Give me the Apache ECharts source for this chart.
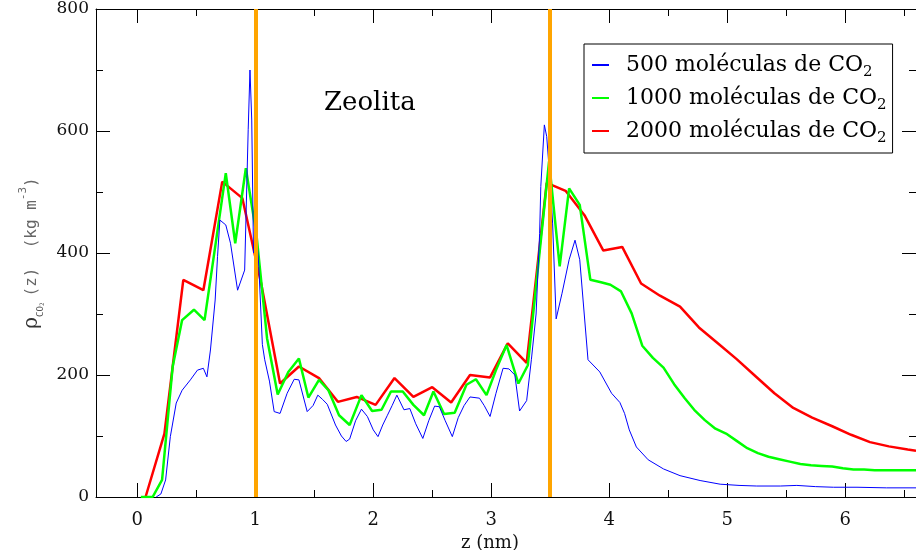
<!DOCTYPE html>
<html>
<head>
<meta charset="utf-8">
<script src="https://cdn.jsdelivr.net/npm/echarts@6/dist/echarts.min.js"></script>
<style>
html,body{margin:0;padding:0;background:#fff;}
#chart{width:916px;height:550px;}
</style>
</head>
<body>
<div id="chart"></div>
<script>
// ---- data ----
var seriesNames = ['500 moléculas de CO2', '1000 moléculas de CO2', '2000 moléculas de CO2'];

var blueZ = [0.16,0.20,0.24,0.28,0.33,0.38,0.45,0.51,0.56,0.59,0.62,0.66,0.68,0.70,0.75,0.79,0.85,0.91,0.94,0.955,0.97,0.985,1.005,1.03,1.06,1.08,1.12,1.16,1.21,1.27,1.33,1.37,1.44,1.49,1.53,1.57,1.61,1.68,1.73,1.77,1.80,1.85,1.90,1.95,2.00,2.04,2.08,2.12,2.16,2.20,2.26,2.31,2.36,2.42,2.47,2.52,2.56,2.61,2.67,2.72,2.77,2.82,2.90,2.94,2.99,3.04,3.10,3.15,3.20,3.24,3.30,3.34,3.38,3.41,3.42,3.45,3.47,3.50,3.52,3.55,3.60,3.66,3.71,3.75,3.82,3.92,4.02,4.09,4.13,4.17,4.23,4.33,4.46,4.60,4.77,4.94,5.10,5.25,5.45,5.59,5.75,5.90,6.10,6.35,6.60];
var blueRho = [0,5,28,99,154,175,192,208,211,197,241,323,394,454,446,416,339,372,602,700,618,400,449,378,250,225,190,140,137,170,193,192,140,150,167,160,152,118,100,91,95,125,144,132,110,99,118,134,150,167,143,145,120,96,125,149,148,125,99,130,150,164,162,150,132,170,211,210,200,141,158,225,300,432,509,610,591,514,449,292,334,389,421,389,225,205,170,155,137,110,82,61,46,35,27,21,19,18,18,19,17,16,16,15,15];

var greenZ = [0.03,0.13,0.21,0.30,0.38,0.48,0.57,0.66,0.75,0.83,0.92,1.01,1.10,1.19,1.28,1.37,1.45,1.54,1.62,1.71,1.80,1.90,1.99,2.07,2.15,2.25,2.34,2.43,2.51,2.60,2.69,2.79,2.87,2.96,3.04,3.13,3.23,3.31,3.40,3.49,3.58,3.66,3.75,3.84,3.93,4.01,4.10,4.19,4.28,4.37,4.46,4.55,4.64,4.72,4.81,4.90,4.99,5.08,5.17,5.26,5.35,5.44,5.53,5.62,5.71,5.80,5.89,5.98,6.07,6.16,6.25,6.34,6.43,6.52,6.60];
var greenRho = [0,0,28,214,290,307,290,410,531,416,539,430,260,168,205,227,163,192,175,134,118,167,141,143,173,173,151,134,173,136,138,184,193,167,208,249,186,216,383,550,378,506,479,356,352,348,337,301,248,228,212,185,162,143,126,112,104,92,80,72,66,62,58,54,52,51,50,47,45,45,44,44,44,44,44];

var redZ = [0.07,0.23,0.39,0.56,0.72,0.89,1.05,1.21,1.37,1.54,1.70,1.86,2.02,2.18,2.34,2.50,2.66,2.82,2.99,3.14,3.30,3.47,3.63,3.79,3.95,4.11,4.27,4.43,4.60,4.76,4.92,5.08,5.24,5.40,5.56,5.72,5.89,6.05,6.21,6.37,6.53,6.60];
var redRho = [0,104,356,339,517,490,350,186,214,195,156,164,151,195,164,180,155,200,196,252,220,515,502,462,404,410,350,330,312,278,252,226,198,170,146,130,116,102,90,83,78,76];

var zeoliteWalls = [1.0, 3.5];
var xMajorTicks = [0,1,2,3,4,5,6];
var xMinorTicks = [0.5,1.5,2.5,3.5,4.5,5.5,6.5];
var yMajorTicks = [0,200,400,600,800];
var yMinorTicks = [100,300,500,700];
var xRange = [-0.35, 6.6];
var yRange = [0, 800];

function pairs(xs, ys){ var out=[]; for(var i=0;i<xs.length;i++) out.push([xs[i], ys[i]]); return out; }

var SERIF = '"DejaVu Serif", serif';
var MONO = '"DejaVu Sans Mono", monospace';
var chart = echarts.init(document.getElementById('chart'), null, {renderer:'canvas'});

function xAx(pos, ticks, len, line){
  return {
    type:'value', min:xRange[0], max:xRange[1], position:pos, splitLine:{show:false},
    axisLine:{show:line, onZero:false, lineStyle:{color:'#000', width:1}},
    axisTick:{show:true, inside:true, length:len, lineStyle:{color:'#000'}, customValues:ticks},
    axisLabel:{show:false}
  };
}
function yAx(pos, ticks, len, line){
  return {
    type:'value', min:yRange[0], max:yRange[1], position:pos, splitLine:{show:false},
    axisLine:{show:line, onZero:false, lineStyle:{color:'#000', width:1}},
    axisTick:{show:true, inside:true, length:len, lineStyle:{color:'#000'}, customValues:ticks},
    axisLabel:{show:false}
  };
}

var xMain = xAx('bottom', xMajorTicks, 14, true);
xMain.name = 'z (nm)';
xMain.nameLocation = 'middle';
xMain.nameGap = 27;
xMain.nameTextStyle = {fontFamily:SERIF, fontSize:18, color:'#111', padding:[0,32,0,0]};
xMain.axisLabel = {show:true, margin:14, fontFamily:SERIF, fontSize:18, color:'#111', customValues:xMajorTicks};

var yMain = yAx('left', yMajorTicks, 14, true);
yMain.name = '{r|ρ}{s|CO}{t|2}{m|(z)  (kg m}{p|-3}{m|)}';
yMain.nameLocation = 'middle';
yMain.nameGap = 42;
yMain.nameRotate = 90;
yMain.nameTextStyle = {
  rich:{
    r:{fontFamily:SERIF, fontSize:20, color:'#333', lineHeight:28, verticalAlign:'middle'},
    s:{fontFamily:MONO, fontSize:9, color:'#555', lineHeight:9, verticalAlign:'bottom'},
    t:{fontFamily:MONO, fontSize:6, color:'#555', lineHeight:6, verticalAlign:'bottom', padding:[0,6,0,0]},
    m:{fontFamily:MONO, fontSize:16, color:'#666', lineHeight:28, verticalAlign:'middle'},
    p:{fontFamily:MONO, fontSize:11, color:'#666', lineHeight:11, verticalAlign:'top'}
  }
};
yMain.axisLabel = {show:true, margin:7, fontFamily:SERIF, fontSize:17, color:'#111', customValues:yMajorTicks};

var option = {
  animation:false,
  backgroundColor:'#fff',
  grid:{left:96, right:0, top:9, bottom:53, containLabel:false, outerBoundsMode:'none'},
  legend:{
    data:seriesNames,
    orient:'vertical',
    left:584, top:44,
    padding:[10,6,7,8],
    itemGap:7,
    itemWidth:17, itemHeight:2,
    icon:'rect',
    borderColor:'#000', borderWidth:1, backgroundColor:'#fff',
    formatter:function(n){ return '{a|' + n.slice(0,-1) + '}{s|2}'; },
    textStyle:{
      rich:{
        a:{fontFamily:SERIF, fontSize:22, color:'#000', lineHeight:30, verticalAlign:'middle', padding:[0,0,0,12]},
        s:{fontFamily:SERIF, fontSize:15, color:'#000', lineHeight:15, verticalAlign:'bottom'}
      }
    }
  },
  xAxis:[
    xMain,
    xAx('bottom', xMinorTicks, 7, false),
    xAx('top', xMajorTicks, 14, true),
    xAx('top', xMinorTicks, 7, false)
  ],
  yAxis:[
    yMain,
    yAx('left', yMinorTicks, 7, false),
    yAx('right', yMajorTicks, 14, false),
    yAx('right', yMinorTicks, 7, false)
  ],
  graphic:[
    {type:'text', left:324, top:90, style:{text:'Zeolita', font:'26px "DejaVu Serif"', fill:'#000'}}
  ],
  series:[
    {
      name:seriesNames[2], type:'line', data:pairs(redZ, redRho),
      showSymbol:false, symbol:'none', color:'#ff0000',
      lineStyle:{color:'#ff0000', width:2.5}, z:2,
      markLine:{
        silent:true, symbol:['none','none'], label:{show:false},
        lineStyle:{color:'#ffa500', width:4, type:'solid'},
        data:zeoliteWalls.map(function(v){ return {xAxis:v}; })
      }
    },
    {
      name:seriesNames[1], type:'line', data:pairs(greenZ, greenRho),
      showSymbol:false, symbol:'none', color:'#00ff00',
      lineStyle:{color:'#00ff00', width:2.5}, z:3
    },
    {
      name:seriesNames[0], type:'line', data:pairs(blueZ, blueRho),
      showSymbol:false, symbol:'none', color:'#0000ff',
      lineStyle:{color:'#0000ff', width:1}, z:4
    }
  ]
};
chart.setOption(option);
</script>
</body>
</html>
